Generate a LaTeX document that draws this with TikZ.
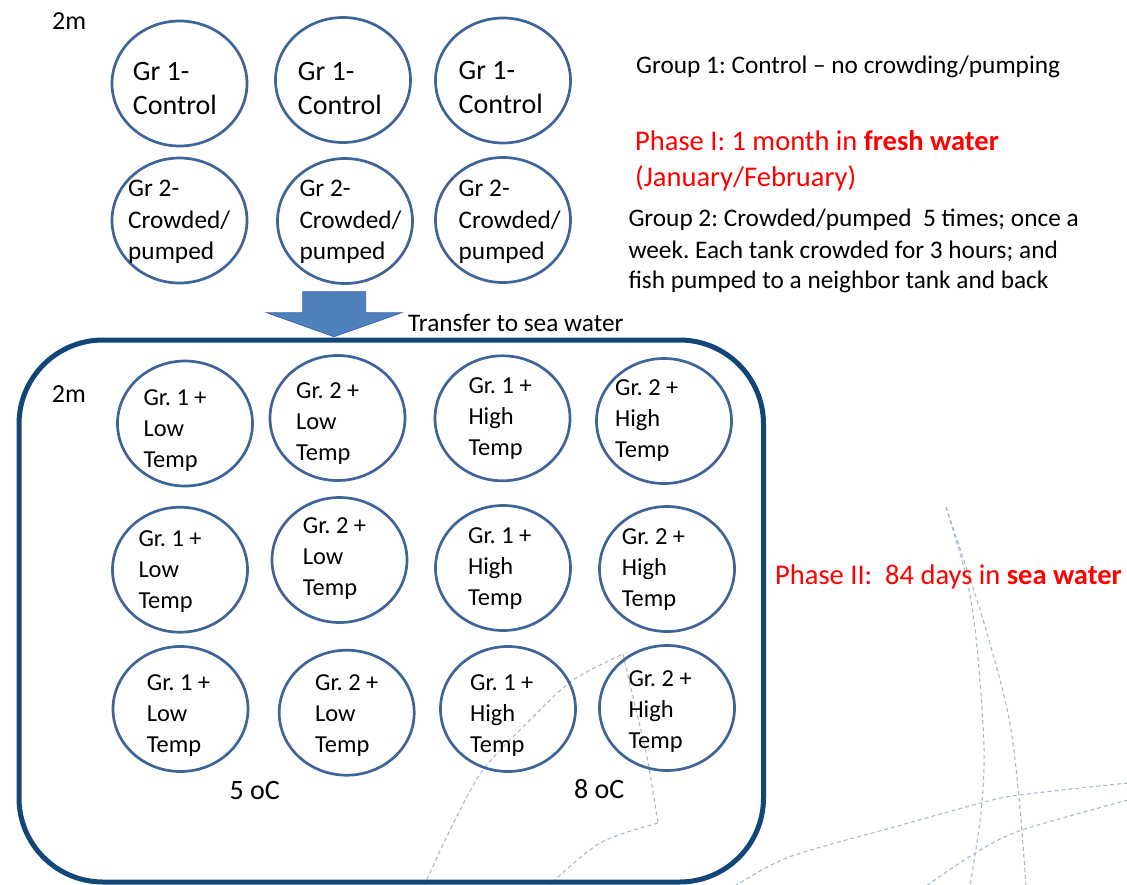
\documentclass[tikz,border=0pt]{standalone}
\usepackage{fontspec}
\setmainfont{Carlito}
\frenchspacing
\usetikzlibrary{shapes.geometric}
\definecolor{tankblue}{RGB}{62,100,152}
\definecolor{boxnavy}{RGB}{18,70,120}
\definecolor{arrowfill}{RGB}{79,129,189}
\definecolor{arrowline}{RGB}{60,104,160}
\definecolor{gridgray}{RGB}{165,186,206}
\definecolor{phasered}{RGB}{255,0,0}
\tikzset{
  tankshape/.style={ellipse, draw=tankblue, line width=2.7pt, minimum width=135pt, minimum height=125pt, inner sep=0pt},
  txt/.style={inner sep=0pt, anchor=base west, text=black},
  big/.style={txt, font=\fontsize{28}{34}\selectfont},
  mid/.style={txt, font=\fontsize{25.3}{30}\selectfont},
  low/.style={txt, font=\fontsize{24.4}{29}\selectfont},
  red/.style={txt, text=phasered, font=\fontsize{28.5}{34}\selectfont},
  grid/.style={draw=gridgray, line width=1.1pt, dash pattern=on 4pt off 3pt},
}
\newcommand\tankC[8]{%
  \node[tankshape] (#1) at (#2,#3) {};
  \node[low] (#1-1) at (#4,#5) {#6};
  \node[low] (#1-2) at (#4,#5+31) {#7};
  \node[low] (#1-3) at (#4,#5+62) {#8};
}
\begin{document}
\begin{tikzpicture}[x=1pt,y=-1pt]
\useasboundingbox (0,0) rectangle (1127,884);
% background globe grid
\draw[grid] plot[smooth] coordinates {(946,507) (967,580) (977,647) (984,747) (981,813) (970,886)};
\draw[grid] plot[smooth] coordinates {(946,507) (981,613) (1008,713) (1019,797) (1026,886)};
\draw[grid] plot[smooth] coordinates {(1128,783) (1019,795) (981,803) (894,827) (789,857) (735,886)};
\draw[grid] plot[smooth] coordinates {(1128,800) (1022,830) (977,852) (926,886)};
\draw[grid] plot[smooth] coordinates {(424,886) (450,830) (483,770) (533,717) (573,680) (623,654)};
\draw[grid] plot[smooth] coordinates {(623,654) (633,697) (647,757) (658,823)};
\draw[grid] plot[smooth] coordinates {(658,823) (600,843) (548,886)};

% Phase I tanks
\node[tankshape] (p11) at (179.5,83.5) {};
\node[tankshape] (p12) at (343,80) {};
\node[tankshape] (p13) at (503,80.5) {};
\node[tankshape] (p21) at (179.5,220.5) {};
\node[tankshape] (p22) at (345,221) {};
\node[tankshape] (p23) at (503,220) {};
\foreach \n/\x/\y in {p11/132.7/80, p12/297.7/80, p13/458.5/79}{
  \node[big] (\n-1) at (\x,\y) {Gr 1-};
  \node[big] (\n-2) at (\x,\y+34) {Control};
}
\foreach \n/\x in {p21/128, p22/299.3, p23/458.5}{
  \node[mid] (\n-1) at (\x,196.7) {Gr 2-};
  \node[mid] (\n-2) at (\x,228) {Crowded/};
  \node[mid] (\n-3) at (\x,259) {pumped};
}
\node[txt, font=\fontsize{26}{30}\selectfont] (size1) at (52,29) {2m};

% right-hand notes
\node[mid] (g1) at (636,73.3) {Group 1: Control -- no crowding/pumping};
\node[red] (ph1a) at (635,150) {Phase I: 1 month in \textbf{fresh water}};
\node[red] (ph1b) at (635,186.7) {(January/February)};
\node[mid] (g2a) at (628.3,226.7) {Group 2: Crowded/pumped \ 5 times; once a};
\node[mid] (g2b) at (628.3,258.3) {week. Each tank crowded for 3 hours; and};
\node[mid] (g2c) at (628.3,288.3) {fish pumped to a neighbor tank and back};

% transfer arrow
\draw[fill=arrowfill, draw=arrowline, line width=0.8pt]
  (302.7,291.7) -- (365.7,291.7) -- (365.7,312.7) -- (401.7,312.7) -- (334,336.7)
  -- (266.7,312.7) -- (302.7,312.7) -- cycle;
\node[mid] (transfer) at (408,331.7) {Transfer to sea water};

% Phase II box
\draw[draw=boxnavy, line width=5pt, rounded corners=84pt] (19,340) rectangle (763.5,882);
\node[txt, font=\fontsize{26}{30}\selectfont] (size2) at (51.7,402.7) {2m};

\tankC{a1}{185}{423.5}{143.3}{405}{Gr. 1 +}{Low}{Temp}
\tankC{a2}{337.5}{418}{296}{398.3}{Gr. 2 +}{Low}{Temp}
\tankC{a3}{502.5}{418.3}{468.3}{393.3}{Gr. 1 +}{High}{Temp}
\tankC{a4}{664}{421}{615}{395}{Gr. 2 +}{High}{Temp}
\tankC{b1}{180}{569.7}{138.3}{546.7}{Gr. 1 +}{Low}{Temp}
\tankC{b2}{339.5}{560}{302.7}{533.3}{Gr. 2 +}{Low}{Temp}
\tankC{b3}{503}{568}{468}{543.3}{Gr. 1 +}{High}{Temp}
\tankC{b4}{667}{569}{621.7}{544}{Gr. 2 +}{High}{Temp}
\tankC{c1}{180.5}{709}{146.7}{690.7}{Gr. 1 +}{Low}{Temp}
\tankC{c2}{346.7}{712.7}{315}{690}{Gr. 2 +}{Low}{Temp}
\tankC{c3}{508}{709}{470}{690}{Gr. 1 +}{High}{Temp}
\tankC{c4}{667}{708}{628.3}{686}{Gr. 2 +}{High}{Temp}

\node[txt, font=\fontsize{28}{32}\selectfont] (t5) at (229.3,799.3) {5 oC};
\node[txt, font=\fontsize{28}{32}\selectfont] (t8) at (574,798.3) {8 oC};
\node[red] (ph2) at (775,584) {Phase II: \ 84 days in \textbf{sea water}};
\end{tikzpicture}
\end{document}
